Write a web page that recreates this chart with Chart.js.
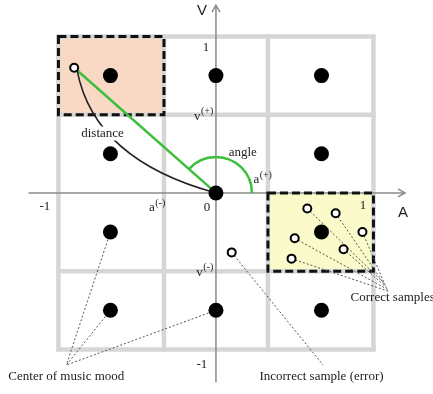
<!DOCTYPE html>
<html>
<head>
<meta charset="utf-8">
<script src="https://cdn.jsdelivr.net/npm/chart.js@4.4.0/dist/chart.umd.min.js"></script>
<style>
  html, body { margin: 0; padding: 0; background: #fff; }
  #wrap { width: 433px; height: 394px; position: relative; }
</style>
</head>
<body>
<div id="wrap"><canvas id="moodChart"></canvas></div>
<script>
// mood centers (filled dots)
const centerA = [-0.67, 0, 0.67, -0.67, 0.67, 0, -0.67, 0.67, -0.67, 0, 0.67];
const centerV = [0.75, 0.75, 0.75, 0.25, 0.25, 0, -0.25, -0.25, -0.75, -0.75, -0.75];

// correct samples (inside the yellow cell)
const correctA = [0.58, 0.76, 0.93, 0.81, 0.50, 0.48];
const correctV = [-0.10, -0.13, -0.25, -0.36, -0.29, -0.42];

// incorrect sample and query sample
const errorA = [0.10];
const errorV = [-0.38];
const queryA = [-0.90];
const queryV = [0.80];

// grid boundaries
const gridA = [-1, -0.33, 0.33, 1];
const gridV = [1, 0.5, -0.5, -1];

// highlighted cells [a0, a1, v0, v1]
const orangeCell = [-1, -0.33, 0.5, 1];
const yellowCell = [0.33, 1, -0.5, 0];

// tick labels
const tickTexts = ['-1', '0', '1', '1', '-1'];

const serif = '"Liberation Serif", "DejaVu Serif", serif';
const sans = '"Liberation Sans", Arial, sans-serif';

function px(chart, a, v) {
  return [chart.scales.x.getPixelForValue(a), chart.scales.y.getPixelForValue(v)];
}

function supText(ctx, x, y, base, sup, align) {
  ctx.font = '13px ' + serif;
  const w1 = ctx.measureText(base).width;
  ctx.font = '10px ' + serif;
  const w2 = ctx.measureText(sup).width;
  let left = x;
  if (align === 'center') left = x - (w1 + w2) / 2;
  if (align === 'right') left = x - (w1 + w2);
  ctx.textAlign = 'left';
  ctx.textBaseline = 'middle';
  ctx.font = '13px ' + serif;
  ctx.fillText(base, left, y);
  ctx.font = '10px ' + serif;
  ctx.fillText(sup, left + w1 + 0.5, y - 5);
}

const diagramPlugin = {
  id: 'diagram',
  beforeDatasetsDraw(chart) {
    const ctx = chart.ctx;
    ctx.save();

    // highlighted cells
    let [x0, y0] = px(chart, orangeCell[0], orangeCell[3]);
    let [x1, y1] = px(chart, orangeCell[1], orangeCell[2]);
    ctx.fillStyle = '#f9d8c4';
    ctx.fillRect(x0, y0, x1 - x0, y1 - y0);
    let [x2, y2] = px(chart, yellowCell[0], yellowCell[3]);
    let [x3, y3] = px(chart, yellowCell[1], yellowCell[2]);
    ctx.fillStyle = '#fafacb';
    ctx.fillRect(x2, y2, x3 - x2, y3 - y2);

    // gray grid
    ctx.strokeStyle = '#d6d6d6';
    ctx.lineWidth = 4.5;
    const top = chart.scales.y.getPixelForValue(1);
    const bot = chart.scales.y.getPixelForValue(-1);
    const lft = chart.scales.x.getPixelForValue(-1);
    const rgt = chart.scales.x.getPixelForValue(1);
    gridA.forEach(a => {
      const x = chart.scales.x.getPixelForValue(a);
      ctx.beginPath(); ctx.moveTo(x, top - 2); ctx.lineTo(x, bot + 2); ctx.stroke();
    });
    gridV.forEach(v => {
      const y = chart.scales.y.getPixelForValue(v);
      ctx.beginPath(); ctx.moveTo(lft - 2, y); ctx.lineTo(rgt + 2, y); ctx.stroke();
    });

    // axes
    ctx.strokeStyle = '#8a8a8a';
    ctx.lineWidth = 1.5;
    const [ax0, ay] = px(chart, -1.19, 0);
    const [ax1] = px(chart, 1.20, 0);
    ctx.beginPath(); ctx.moveTo(ax0, ay); ctx.lineTo(ax1, ay); ctx.stroke();
    ctx.beginPath(); ctx.moveTo(ax1 - 7, ay - 4); ctx.lineTo(ax1, ay); ctx.lineTo(ax1 - 7, ay + 4); ctx.stroke();
    const [vx, vy0] = px(chart, 0, 1.20);
    const [, vy1] = px(chart, 0, -1.21);
    ctx.beginPath(); ctx.moveTo(vx, vy0); ctx.lineTo(vx, vy1); ctx.stroke();
    ctx.beginPath(); ctx.moveTo(vx - 4, vy0 + 7); ctx.lineTo(vx, vy0); ctx.lineTo(vx + 4, vy0 + 7); ctx.stroke();

    // dashed cell borders
    ctx.strokeStyle = '#111';
    ctx.lineWidth = 3;
    ctx.setLineDash([8, 4]);
    ctx.strokeRect(x0, y0, x1 - x0, y1 - y0);
    ctx.strokeRect(x2, y2, x3 - x2, y3 - y2);
    ctx.setLineDash([]);

    // green distance line + angle arc
    const [ox, oy] = px(chart, 0, 0);
    const [qx, qy] = px(chart, queryA[0], queryV[0]);
    ctx.strokeStyle = '#3cbf3c';
    ctx.lineWidth = 2.5;
    ctx.beginPath(); ctx.moveTo(ox, oy); ctx.lineTo(qx, qy); ctx.stroke();
    const ang = Math.atan2(qy - oy, qx - ox);
    ctx.beginPath();
    ctx.arc(ox, oy, 36, 0, ang, true);
    ctx.stroke();

    // black "distance" curve
    const [cx, cy] = px(chart, -0.77, 0.21);
    ctx.strokeStyle = '#222';
    ctx.lineWidth = 1.5;
    ctx.beginPath(); ctx.moveTo(ox, oy); ctx.quadraticCurveTo(cx, cy, qx + 3, qy + 3); ctx.stroke();

    // dotted leader lines
    ctx.strokeStyle = '#555';
    ctx.lineWidth = 1;
    ctx.setLineDash([2, 2]);
    const leaders = [];
    const [mx, my] = px(chart, -0.95, -1.10);
    [[-0.67, -0.25], [-0.67, -0.75], [0, -0.75]].forEach(p => leaders.push([px(chart, p[0], p[1]), [mx, my]]));
    leaders.push([px(chart, errorA[0], errorV[0]), px(chart, 0.68, -1.10)]);
    correctA.forEach((a, i) => {
      leaders.push([px(chart, a, correctV[i]), px(chart, 1.06 + i * 0.008, -0.57 - i * 0.012)]);
    });
    leaders.forEach(l => {
      ctx.beginPath(); ctx.moveTo(l[0][0], l[0][1]); ctx.lineTo(l[1][0], l[1][1]); ctx.stroke();
    });
    ctx.setLineDash([]);

    // text labels
    ctx.fillStyle = '#222';
    ctx.textBaseline = 'middle';
    ctx.textAlign = 'center';
    ctx.font = '13px ' + serif;
    let p;
    p = px(chart, -1.086, -0.09); ctx.fillText(tickTexts[0], p[0], p[1]);
    p = px(chart, -0.057, -0.096); ctx.fillText(tickTexts[1], p[0], p[1]);
    p = px(chart, 0.933, -0.083); ctx.fillText(tickTexts[2], p[0], p[1]);
    p = px(chart, -0.063, 0.927); ctx.fillText(tickTexts[3], p[0], p[1]);
    p = px(chart, -0.089, -1.10); ctx.fillText(tickTexts[4], p[0], p[1]);

    ctx.font = '15px ' + sans;
    p = px(chart, 1.187, -0.128); ctx.fillText('A', p[0], p[1]);
    p = px(chart, -0.089, 1.165); ctx.fillText('V', p[0], p[1]);

    p = px(chart, -0.375, -0.096); supText(ctx, p[0], p[1], 'a', '(-)', 'center');
    p = px(chart, 0.295, 0.083); supText(ctx, p[0], p[1], 'a', '(+)', 'center');
    p = px(chart, -0.02, 0.49); supText(ctx, p[0], p[1], 'v', '(+)', 'right');
    p = px(chart, -0.02, -0.51); supText(ctx, p[0], p[1], 'v', '(-)', 'right');

    ctx.textAlign = 'center';
    ctx.font = '13px ' + serif;
    p = px(chart, 0.17, 0.26); ctx.fillText('angle', p[0], p[1]);
    p = px(chart, -0.72, 0.38);
    const dw = ctx.measureText('distance').width;
    ctx.fillStyle = '#fff';
    ctx.fillRect(p[0] - dw / 2 - 2, p[1] - 7, dw + 4, 14);
    ctx.fillStyle = '#222';
    ctx.fillText('distance', p[0], p[1]);
    p = px(chart, -0.95, -1.176); ctx.fillText('Center of music mood', p[0], p[1]);
    p = px(chart, 0.67, -1.176); ctx.fillText('Incorrect sample (error)', p[0], p[1]);
    ctx.textAlign = 'left';
    p = px(chart, 0.855, -0.67); ctx.fillText('Correct samples', p[0], p[1]);

    ctx.restore();
  }
};

const toPoints = (as, vs) => as.map((a, i) => ({ x: a, y: vs[i] }));

new Chart(document.getElementById('moodChart'), {
  type: 'scatter',
  data: {
    datasets: [
      {
        label: 'Center of music mood',
        data: toPoints(centerA, centerV),
        pointRadius: 7.5,
        backgroundColor: '#000',
        borderColor: '#000',
        borderWidth: 0,
      },
      {
        label: 'Correct samples',
        data: toPoints(correctA, correctV).concat(toPoints(queryA, queryV)),
        pointRadius: 4,
        backgroundColor: '#fff',
        borderColor: '#000',
        borderWidth: 2,
      },
      {
        label: 'Incorrect sample',
        data: toPoints(errorA, errorV),
        pointRadius: 4,
        backgroundColor: '#fff',
        borderColor: '#000',
        borderWidth: 2,
      },
    ],
  },
  options: {
    responsive: true,
    maintainAspectRatio: false,
    animation: false,
    layout: { padding: 0, autoPadding: false },
    plugins: {
      legend: { display: false },
      tooltip: { enabled: false },
    },
    scales: {
      x: { type: 'linear', min: -1.371, max: 1.378, display: false },
      y: { type: 'linear', min: -1.285, max: 1.233, display: false },
    },
  },
  plugins: [diagramPlugin],
});
</script>
</body>
</html>
